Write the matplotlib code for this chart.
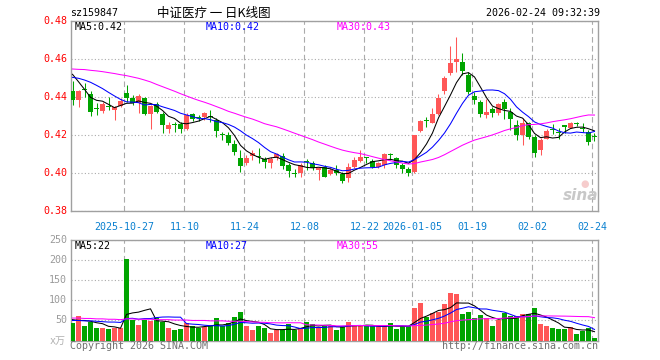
import matplotlib
matplotlib.use('Agg')
import matplotlib.pyplot as plt
import matplotlib.transforms as mtrans
import numpy as np

# ---------------- data ----------------
opens = [0.4433, 0.4386, 0.4446, 0.4418, 0.4342, 0.4328, 0.4353, 0.4333, 0.4354, 0.4421,
         0.4398, 0.4368, 0.4395, 0.4312, 0.4365, 0.4312, 0.4233, 0.4256, 0.4258, 0.4233,
         0.4312, 0.4295, 0.4298, 0.4300, 0.4281, 0.4202, 0.4202, 0.4154, 0.4079, 0.4056,
         0.4091, 0.4086, 0.4074, 0.4056, 0.4082, 0.4091, 0.4044, 0.4002, 0.4004, 0.4063,
         0.4053, 0.4018, 0.4035, 0.3996, 0.4018, 0.3996, 0.3974, 0.4035, 0.4067, 0.4081,
         0.4067, 0.4035, 0.4044, 0.4098, 0.4079, 0.4044, 0.4021, 0.4009, 0.4223, 0.4277,
         0.4267, 0.4311, 0.4433, 0.4530, 0.4588, 0.4588, 0.4518, 0.4407, 0.4377, 0.4307,
         0.4337, 0.4316, 0.4377, 0.4325, 0.4254, 0.4202, 0.4263, 0.4193, 0.4123, 0.4179,
         0.4233, 0.4212, 0.4253, 0.4237, 0.4261, 0.4237, 0.4219, 0.4191]
highs = [0.4486, 0.4439, 0.4477, 0.4435, 0.4368, 0.4377, 0.4404, 0.4354, 0.4395, 0.4465,
         0.4412, 0.4418, 0.4404, 0.4360, 0.4377, 0.4325, 0.4272, 0.4272, 0.4272, 0.4316,
         0.4316, 0.4307, 0.4325, 0.4333, 0.4289, 0.4219, 0.4219, 0.4175, 0.4123, 0.4096,
         0.4123, 0.4132, 0.4084, 0.4084, 0.4105, 0.4105, 0.4053, 0.4021, 0.4053, 0.4074,
         0.4067, 0.4035, 0.4044, 0.4026, 0.4044, 0.4009, 0.4056, 0.4088, 0.4123, 0.4088,
         0.4075, 0.4061, 0.4105, 0.4105, 0.4088, 0.4053, 0.4032, 0.4202, 0.4281, 0.4298,
         0.4342, 0.4418, 0.4512, 0.4670, 0.4719, 0.4632, 0.4535, 0.4430, 0.4386, 0.4389,
         0.4347, 0.4368, 0.4389, 0.4342, 0.4281, 0.4289, 0.4272, 0.4202, 0.4184, 0.4232,
         0.4260, 0.4237, 0.4254, 0.4272, 0.4272, 0.4263, 0.4228, 0.4210]
lows = [0.4360, 0.4351, 0.4400, 0.4302, 0.4307, 0.4316, 0.4333, 0.4281, 0.4347, 0.4377,
        0.4360, 0.4316, 0.4307, 0.4232, 0.4316, 0.4214, 0.4211, 0.4218, 0.4211, 0.4228,
        0.4274, 0.4274, 0.4281, 0.4272, 0.4193, 0.4175, 0.4149, 0.4098, 0.4009, 0.4044,
        0.4070, 0.4053, 0.4026, 0.4026, 0.4072, 0.4021, 0.3979, 0.3979, 0.3982, 0.4018,
        0.4018, 0.3965, 0.3979, 0.3991, 0.3991, 0.3947, 0.3956, 0.4026, 0.4061, 0.4053,
        0.4026, 0.4026, 0.4026, 0.4070, 0.4030, 0.4000, 0.3986, 0.4000, 0.4219, 0.4242,
        0.4263, 0.4307, 0.4418, 0.4518, 0.4535, 0.4518, 0.4418, 0.4365, 0.4298, 0.4289,
        0.4295, 0.4307, 0.4284, 0.4228, 0.4175, 0.4149, 0.4179, 0.4088, 0.4096, 0.4179,
        0.4207, 0.4179, 0.4214, 0.4237, 0.4249, 0.4219, 0.4149, 0.4172]
closes = [0.4386, 0.4433, 0.4437, 0.4325, 0.4340, 0.4363, 0.4349, 0.4351, 0.4381, 0.4398,
          0.4368, 0.4407, 0.4312, 0.4356, 0.4325, 0.4254, 0.4254, 0.4253, 0.4235, 0.4307,
          0.4286, 0.4293, 0.4316, 0.4298, 0.4225, 0.4200, 0.4158, 0.4114, 0.4039, 0.4079,
          0.4105, 0.4084, 0.4061, 0.4074, 0.4102, 0.4039, 0.4014, 0.3998, 0.4044, 0.4061,
          0.4026, 0.4030, 0.3982, 0.4018, 0.4000, 0.3961, 0.4035, 0.4070, 0.4088, 0.4079,
          0.4035, 0.4056, 0.4102, 0.4096, 0.4044, 0.4021, 0.4000, 0.4202, 0.4275, 0.4274,
          0.4311, 0.4398, 0.4500, 0.4579, 0.4600, 0.4540, 0.4430, 0.4386, 0.4311, 0.4325,
          0.4316, 0.4365, 0.4337, 0.4286, 0.4202, 0.4263, 0.4193, 0.4105, 0.4175, 0.4225,
          0.4230, 0.4210, 0.4246, 0.4267, 0.4258, 0.4235, 0.4167, 0.4189]
volumes = [44, 62, 37, 47, 32, 32, 29, 30, 30, 204, 51, 39, 52, 49, 56, 45, 32, 25, 29, 44,
           37, 30, 34, 37, 57, 36, 44, 59, 72, 37, 25, 35, 30, 19, 27, 25, 40, 27, 32, 47,
           42, 33, 35, 35, 27, 37, 47, 38, 35, 35, 35, 35, 35, 44, 29, 35, 35, 82, 94, 58,
           69, 72, 92, 119, 117, 67, 72, 57, 64, 57, 37, 50, 68, 62, 62, 67, 67, 82, 40, 37,
           31, 29, 29, 34, 15, 24, 30, 7]

# moving-average values before enough history is in the window
ma5_head = [0.4521, 0.4482, 0.4442, 0.4400]
ma10_head = [0.4505, 0.4500, 0.4491, 0.4479, 0.4463, 0.4446, 0.4426, 0.4407, 0.4389]
ma30_head = [0.4549, 0.4547, 0.4546, 0.4542, 0.4539, 0.4535, 0.4530, 0.4525, 0.4519, 0.4514,
             0.4507, 0.4500, 0.4491, 0.4481, 0.4468, 0.4456, 0.4444, 0.4432, 0.4419, 0.4407,
             0.4395, 0.4384, 0.4374, 0.4363, 0.4351, 0.4339, 0.4326, 0.4316, 0.4305]
vma5_head = [52, 50, 50, 48]
vma10_head = [50, 50, 49, 49, 48, 47, 46, 46, 45]
vma30_head = [56, 56, 55, 55, 54, 54, 53, 53, 52, 54, 54, 53, 53, 53, 52, 52, 52, 51, 51, 51,
              50, 50, 50, 49, 49, 49, 48, 48, 48]

date_labels = ['2025-10-27', '11-10', '11-24', '12-08', '12-22', '2026-01-05', '01-19', '02-02', '02-24']
date_idx = [9, 19, 29, 39, 49, 57, 67, 77, 87]
price_ticks = [0.38, 0.40, 0.42, 0.44, 0.46, 0.48]
vol_ticks = [50, 100, 150, 200, 250]

code = 'sz159847'
title = '中证医疗 一 日K线图'
stamp = '2026-02-24 09:32:39'
ma_price_labels = ['MA5:0.42', 'MA10:0.42', 'MA30:0.43']
ma_vol_labels = ['MA5:22', 'MA10:27', 'MA30:55']


def moving(vals, n, head):
    out = []
    for i in range(len(vals)):
        if i >= n - 1:
            out.append(float(np.mean(vals[i - n + 1:i + 1])))
        else:
            out.append(head[i])
    return out


# ---------------- layout ----------------
W, H = 660, 360
fig = plt.figure(figsize=(6.6, 3.6), dpi=100)
fig.patch.set_facecolor('white')


def rect(x0, y0, x1, y1):
    return [x0 / W, 1 - y1 / H, (x1 - x0) / W, (y1 - y0) / H]


L, R = 70.7, 597.7
step, first_c = 6.0, 72.5
xlim = ((L - first_c) / step, (R - first_c) / step)

ax = fig.add_axes(rect(L, 21.3, R, 211.3))
axv = fig.add_axes(rect(L, 240.3, R, 340.5))

RED = '#ff5757'
GREEN = '#00a400'
MONO = 'DejaVu Sans Mono'
FS = 7.2
GRID = '#ababab'
LW = 0.75

n = len(closes)
x = np.arange(n)
o = np.array(opens); c = np.array(closes); h = np.array(highs); lo = np.array(lows)
up = c >= o
cols = [RED if u else GREEN for u in up]

bw = 5.0 / step
minh = 0.1 / 190 * 1.0
bottoms = np.minimum(o, c)
heights = np.maximum(np.abs(c - o), minh)

for a in (ax, axv):
    a.set_xlim(*xlim)
    a.set_xticks([i - 0.35 for i in date_idx])
    a.set_xticklabels([])
    a.tick_params(length=0, labelleft=False, labelbottom=False)
    a.grid(axis='x', color=GRID, linestyle=(0, (5, 3)), linewidth=0.8)
    a.grid(axis='y', color=GRID, linestyle=(0, (1, 2)), linewidth=0.8)
    a.set_axisbelow(True)
    for s in a.spines.values():
        s.set_color('#a0a0a0')
        s.set_linewidth(1.0)

# price panel
ax.set_ylim(0.38, 0.48)
ax.set_yticks(price_ticks)
ax.vlines(x, lo, h, colors=cols, linewidth=LW, zorder=3)
ax.bar(x, heights, bw, bottom=bottoms, color=cols, linewidth=0, zorder=3)
ax.plot(x, moving(closes, 5, ma5_head), color='black', lw=LW, zorder=4)
ax.plot(x, moving(closes, 10, ma10_head), color='#0000ff', lw=LW, zorder=4)
ax.plot(x, moving(closes, 30, ma30_head), color='#ff00ff', lw=LW, zorder=4)

# volume panel
axv.set_ylim(0, 250)
axv.set_yticks(vol_ticks)
axv.bar(x, volumes, bw, color=cols, linewidth=0, zorder=3)
axv.plot(x, moving(volumes, 5, vma5_head), color='black', lw=LW, zorder=4)
axv.plot(x, moving(volumes, 10, vma10_head), color='#0000ff', lw=LW, zorder=4)
axv.plot(x, moving(volumes, 30, vma30_head), color='#ff00ff', lw=LW, zorder=4)

# y labels
tp = mtrans.blended_transform_factory(fig.transFigure, ax.transData)
for t in price_ticks:
    fig.text(67 / W, t, '%.2f' % t, transform=tp, ha='right', va='center',
             family=MONO, fontsize=FS, color='#ff0000')
tv = mtrans.blended_transform_factory(fig.transFigure, axv.transData)
for t in vol_ticks:
    fig.text(67 / W, t, '%d' % t, transform=tv, ha='right', va='center',
             family=MONO, fontsize=FS, color='#9a9a9a')
fig.text(66 / W, 1 - 341 / H, 'x万', ha='right', va='center',
         family=[MONO, 'Noto Sans CJK SC'], fontsize=FS, color='#b0b0b0')

# date labels
td = mtrans.blended_transform_factory(ax.transData, fig.transFigure)
for i, lab in zip(date_idx, date_labels):
    fig.text(i - 0.35, 1 - 227.5 / H, lab, transform=td, ha='center', va='center',
             family=MONO, fontsize=FS, color='#0a80d0')

# header
fig.text(70 / W, 1 - 13 / H, code, ha='left', va='center', family=MONO, fontsize=FS, color='black')
fig.text(214 / W, 1 - 13 / H, title, ha='center', va='center',
         family=['Noto Sans CJK SC', 'DejaVu Sans'], fontsize=9, color='black')
fig.text(600 / W, 1 - 13 / H, stamp, ha='right', va='center', family=MONO, fontsize=FS, color='black')

ma_cols = ['black', '#0000ff', '#ff00ff']
ma_x = [75, 206, 337]
for lab, col, xx in zip(ma_price_labels, ma_cols, ma_x):
    fig.text(xx / W, 1 - 26.5 / H, lab, ha='left', va='center', family=MONO, fontsize=FS, color=col)
for lab, col, xx in zip(ma_vol_labels, ma_cols, ma_x):
    fig.text(xx / W, 1 - 246 / H, lab, ha='left', va='center', family=MONO, fontsize=FS, color=col)

# footer
fig.text(70 / W, 1 - 346 / H, 'Copyright 2026 SINA.COM', ha='left', va='center',
         family=MONO, fontsize=FS, color='#707070')
fig.text(598 / W, 1 - 346 / H, 'http://finance.sina.com.cn', ha='right', va='center',
         family=MONO, fontsize=FS, color='#707070')

# sina watermark
fig.text(581 / W, 1 - 196 / H, 'sina', ha='center', va='center', fontsize=11,
         style='italic', weight='bold', color='#c8c8c8', family='DejaVu Sans')
fig.text(585 / W, 1 - 184 / H, '●', ha='center', va='center', fontsize=7,
         color='#f6cccc', family='DejaVu Sans')

fig.savefig('out.png', dpi=100, facecolor='white')
